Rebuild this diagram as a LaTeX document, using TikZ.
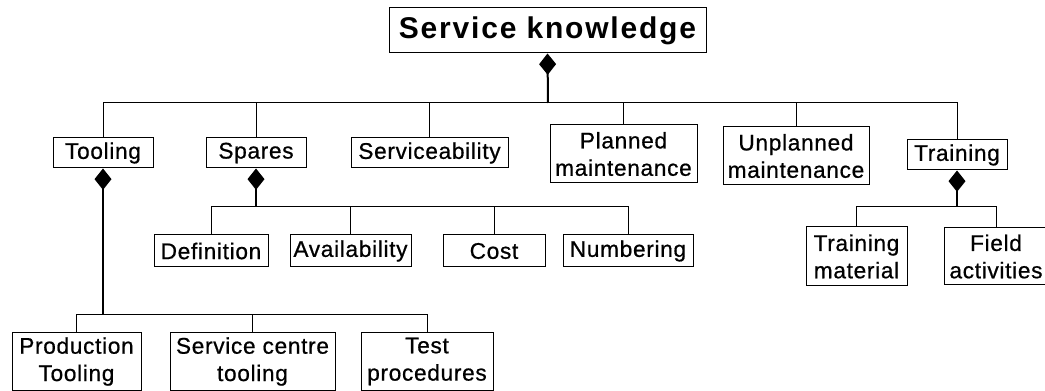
\documentclass[tikz,border=0pt]{standalone}
\usepackage{fontspec}
\setmainfont{Liberation Sans}
\newfontfamily\boxfont[LetterSpace=3,FakeBold=0.7]{Liberation Sans}
\newfontfamily\rootfont[LetterSpace=6]{Liberation Sans Bold}
\usetikzlibrary{arrows.meta}

\tikzset{every picture/.style={line width=0.75pt}}

\begin{document}
\begin{tikzpicture}[x=0.75pt,y=0.75pt,yscale=-1,xscale=1,
	kbox/.style={draw, align=center, inner sep=0pt, font=\boxfont\fontsize{17}{20.5}\selectfont},
	boxsize/.style 2 args={minimum width=#1*0.75pt, minimum height=#2*0.75pt},
	agg/.style={line width=1.3pt, {Diamond[length=16pt,width=12.75pt]}-}
	]
		\useasboundingbox (0,0) rectangle (1045,391); %diagram is 1045 wide and 391 high

		%top level
		\node [kbox, boxsize={317}{45}, font=\rootfont\fontsize{22.5}{26}\selectfont] (root) at (547.5,30.5) {Service knowledge};

		\node [kbox, boxsize={100}{30}] (tooling) at (103,153) {Tooling};
		\node [kbox, boxsize={100}{30}] (spares) at (256,153) {Spares};
		\node [kbox, boxsize={157}{30}] (service) at (429.5,153) {Serviceability};
		\node [kbox, boxsize={147}{58}] (planned) at (623.5,154) {Planned\\maintenance};
		\node [kbox, boxsize={146}{58}] (unplanned) at (796,156) {Unplanned\\maintenance};
		\node [kbox, boxsize={100}{30}] (training) at (957,155) {Training};

		%spares
		\node [kbox, boxsize={114}{32}] (definition) at (211,251) {Definition};
		\node [kbox, boxsize={121}{32}] (availability) at (350.5,251) {Availability};
		\node [kbox, boxsize={102}{32}] (cost) at (494,251) {Cost};
		\node [kbox, boxsize={130}{32}] (numbering) at (628,251) {Numbering};

		%training
		\node [kbox, boxsize={101}{59}] (material) at (856.5,256.5) {Training\\material};
		\node [kbox, boxsize={104}{57}] (field) at (996,256.5) {Field\\activities};

		%tooling
		\node [kbox, boxsize={129}{57}] (production) at (76.5,361.5) {Production\\Tooling};
		\node [kbox, boxsize={165}{57}] (centre) at (252.5,361.5) {Service centre\\tooling};
		\node [kbox, boxsize={132}{57}] (test) at (427,361.5) {Test\\procedures};

		\coordinate (rootbus) at (548,103);
		\coordinate (sparesbus) at (256,207);
		\coordinate (trainingbus) at (957,207);
		\coordinate (toolingbus) at (103,315);

		\draw [agg, line width=1.5pt] (root.south) -- (rootbus);
		\draw (rootbus) -| (tooling.north);
		\draw (rootbus) -| (spares.north);
		\draw (rootbus) -| (service.north);
		\draw (rootbus) -| (planned.north);
		\draw (rootbus) -| (unplanned.north);
		\draw (rootbus) -| (training.north);

		\draw [agg] (spares.south) -- (sparesbus);
		\draw (sparesbus) -| (definition.north);
		\draw (sparesbus) -| (availability.north);
		\draw (sparesbus) -| (cost.north);
		\draw (sparesbus) -| (numbering.north);

		\draw [agg] (training.south) -- (trainingbus);
		\draw (trainingbus) -| (material.north);
		\draw (trainingbus) -| (field.north);

		\draw [agg] (tooling.south) -- (toolingbus);
		\draw (toolingbus) -| (production.north);
		\draw (toolingbus) -| (centre.north);
		\draw (toolingbus) -| (test.north);

\end{tikzpicture}
\end{document}
